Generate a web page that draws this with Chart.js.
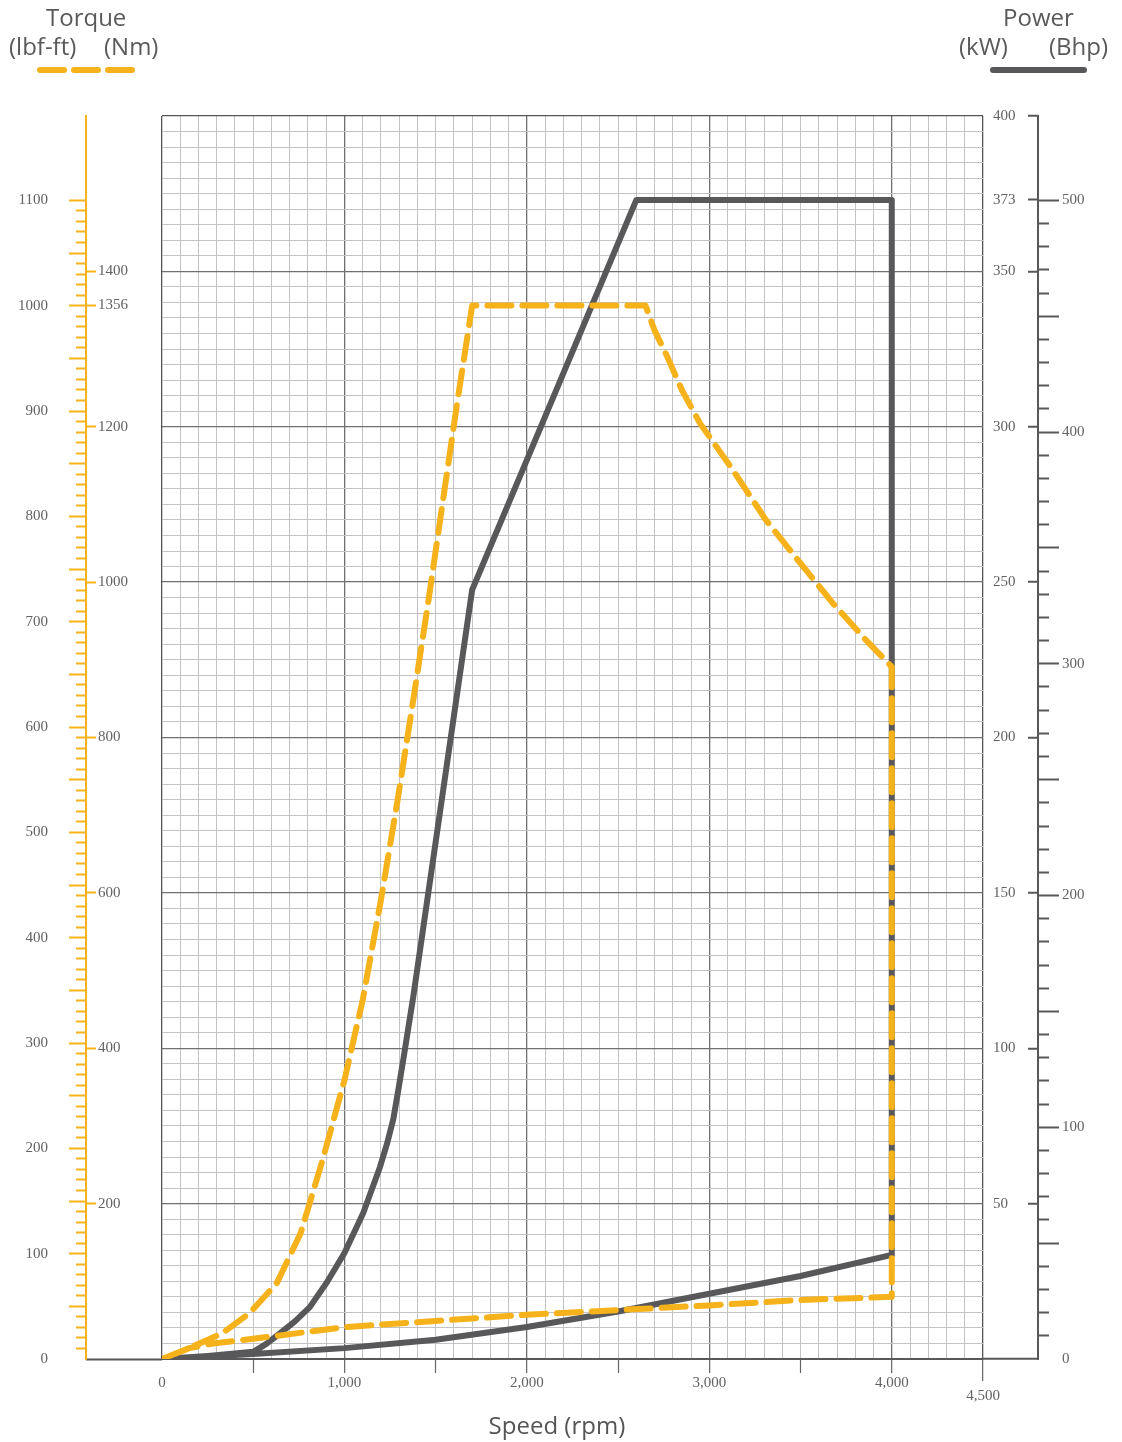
<!DOCTYPE html>
<html>
<head>
<meta charset="utf-8">
<title>Torque and power vs speed</title>
<script src="https://cdn.jsdelivr.net/npm/chart.js@4.4.1/dist/chart.umd.min.js"></script>
<style>
  body { margin: 0; background: #fff; }
  #wrap { position: relative; width: 1122px; height: 1442px; }
  #graph { position: absolute; left: 0; top: 0; }
  .key { position: absolute; font-family: "Open Sans", sans-serif; font-size: 24px; line-height: 28px; color: #5a5a5a; white-space: nowrap; }
  .seg { position: absolute; height: 6px; border-radius: 3px; }
</style>
</head>
<body>
<div id="wrap">
  <canvas id="graph" width="1122" height="1442"></canvas>

  <div class="key" style="left:46px; top:3px;">Torque</div>
  <div class="key" style="left:9px; top:32px;">(lbf-ft)</div>
  <div class="key" style="left:104px; top:32px;">(Nm)</div>
  <div class="seg" style="left:37px; top:67px; width:30px; background:#f5b21a;"></div>
  <div class="seg" style="left:71px; top:67px; width:30px; background:#f5b21a;"></div>
  <div class="seg" style="left:105px; top:67px; width:30px; background:#f5b21a;"></div>

  <div class="key" style="left:1003px; top:3px;">Power</div>
  <div class="key" style="left:959px; top:32px;">(kW)</div>
  <div class="key" style="left:1049px; top:32px;">(Bhp)</div>
  <div class="seg" style="left:990px; top:67px; width:97px; background:#58585a;"></div>
</div>

<script>
  // torque curve, Nm (closed loop: full load up, then back along the bottom)
  const torqueRpm = [0, 148, 329, 480, 630, 760, 880, 1000, 1100, 1200, 1291, 1377, 1461, 1540, 1620, 1700,
                     2650, 2700, 2770, 2850, 2950, 3130, 3310, 3500, 3680, 3860, 4000,
                     4000, 3500, 3000, 2500, 2000, 1500, 1000, 500, 280, 150, 0];
  const torqueNm  = [0, 14, 33, 59, 98, 162, 256, 359, 462, 591, 719, 848, 977, 1105, 1234, 1356,
                     1356, 1324, 1290, 1247, 1204, 1144, 1080, 1024, 972, 925, 891,
                     80, 76, 69, 63, 57, 49, 41, 26, 20, 14, 0];

  // power curve, kW
  const powerRpm = [0, 250, 500, 570, 650, 730, 810, 905, 1000, 1103, 1195, 1233, 1268, 1295, 1323, 1350, 1377, 1700,
                    2600, 4000,
                    4000, 3500, 3000, 2500, 2000, 1500, 1000, 500, 0];
  const powerKw  = [0, 1, 2.3, 4.8, 8.4, 12.2, 16.7, 24.8, 34.1, 47, 61.8, 69.2, 77.2, 86.5, 96.5, 106.5, 116.5, 247.5,
                    373, 373,
                    33.5, 26.7, 21, 15.3, 10.3, 6.2, 3.5, 1.6, 0];

  // tick labels
  const speedLabels = [0, 1000, 2000, 3000, 4000, 4500];
  const nmTicks = [0, 200, 400, 600, 800, 1000, 1200, 1356, 1400];
  const kwLabels = [50, 100, 150, 200, 250, 300, 350, 373, 400];

  const NM_PER_LBFFT = 1.35582;
  const KW_PER_BHP = 0.7457;

  const YELLOW = '#f5b21a';
  const LINE_GRAY = '#58585a';
  const TEXT_GRAY = '#626262';
  const CLEAR = 'rgba(0,0,0,0)';
  const tickFont = { family: '"Liberation Serif", serif', size: 15 };

  const range = (a, b, s) => {
    const out = [];
    for (let v = a; v <= b; v += s) out.push(v);
    return out;
  };
  const setTicks = (vals) => (scale) => { scale.ticks = vals.map(v => ({ value: v })); };

  const kwTicks = range(0, 400, 5).concat([373]).sort((a, b) => a - b);

  const gridColor = (v, lo, hi, major) => {
    if (v === lo || v === hi) return '#555555';
    if (v % major === 0) return '#707070';
    return '#c3c3c3';
  };

  const config = {
    type: 'line',
    data: {
      datasets: [
        {
          label: 'Torque',
          data: torqueRpm.map((x, i) => ({ x: x, y: torqueNm[i] })),
          yAxisID: 'yNm',
          borderColor: YELLOW,
          borderWidth: 6,
          borderDash: [24, 11],
          borderCapStyle: 'round',
          borderJoinStyle: 'round',
          pointRadius: 0,
          tension: 0
        },
        {
          label: 'Power',
          data: powerRpm.map((x, i) => ({ x: x, y: powerKw[i] })),
          yAxisID: 'ykW',
          borderColor: LINE_GRAY,
          borderWidth: 6,
          borderCapStyle: 'round',
          borderJoinStyle: 'round',
          pointRadius: 0,
          tension: 0
        }
      ]
    },
    options: {
      responsive: false,
      devicePixelRatio: 1,
      animation: false,
      layout: { padding: { top: 116, left: 0, right: 0, bottom: 0 } },
      plugins: {
        legend: { display: false },
        tooltip: { enabled: false }
      },
      scales: {
        x: {
          type: 'linear',
          min: 0,
          max: 4500,
          afterBuildTicks: setTicks(range(0, 4500, 100)),
          afterFit: (s) => { s.height = 83; },
          border: { display: true, color: LINE_GRAY, width: 2 },
          grid: {
            color: (ctx) => gridColor(ctx.tick.value, 0, 4500, 1000),
            lineWidth: (ctx) => ctx.tick.value % 1000 === 0 || ctx.tick.value === 4500 ? 1.3 : 1,
            tickLength: 22,
            tickWidth: 1.2,
            tickColor: (ctx) => ctx.tick.value > 0 && ctx.tick.value % 500 === 0 ? '#666666' : CLEAR,
            tickBorderDash: (ctx) => ctx.tick.value === 4500 ? [] : [13, 200]
          },
          ticks: {
            autoSkip: false,
            maxRotation: 0,
            minRotation: 0,
            padding: -5,
            color: TEXT_GRAY,
            font: { family: '"Liberation Serif", serif', size: 15, lineHeight: 0.9 },
            callback: (v) => {
              if (!speedLabels.includes(v)) return '';
              if (v === 4500) return ['', '4,500'];
              return v.toLocaleString('en-US');
            }
          },
          title: {
            display: true,
            text: 'Speed (rpm)\u00a0\u00a0\u00a0\u00a0\u00a0',
            color: '#555555',
            font: { family: '"Open Sans", sans-serif', size: 24 },
            padding: { top: 0, bottom: 0 }
          }
        },
        yLbf: {
          type: 'linear',
          position: 'left',
          weight: 1,
          min: 0,
          max: 1600 / NM_PER_LBFFT,
          afterBuildTicks: setTicks(range(0, 1100, 10)),
          afterFit: (s) => { s.width = 86; },
          border: { display: true, color: YELLOW, width: 2 },
          grid: {
            drawOnChartArea: false,
            tickLength: 17,
            tickWidth: 2,
            tickColor: (ctx) => ctx.tick.value === 0 ? CLEAR : YELLOW,
            tickBorderDash: (ctx) => ctx.tick.value % 50 === 0 ? [] : [0, 7, 10, 200]
          },
          ticks: {
            autoSkip: false,
            padding: 21,
            color: TEXT_GRAY,
            font: tickFont,
            callback: (v) => v % 100 === 0 ? String(v) : ''
          }
        },
        yNm: {
          type: 'linear',
          position: 'left',
          weight: 0,
          min: 0,
          max: 1600,
          afterBuildTicks: setTicks(nmTicks),
          afterFit: (s) => { s.width = 76; },
          border: { display: false },
          grid: {
            drawOnChartArea: false,
            tickLength: 76,
            tickWidth: 2,
            tickColor: (ctx) => ctx.tick.value === 0 ? LINE_GRAY : YELLOW,
            tickBorderDash: (ctx) => ctx.tick.value === 0 ? [] : [10, 200]
          },
          ticks: {
            autoSkip: false,
            mirror: true,
            padding: -64,
            color: TEXT_GRAY,
            font: tickFont,
            callback: (v) => v === 0 ? '' : String(v)
          }
        },
        ykW: {
          type: 'linear',
          position: 'right',
          weight: 0,
          min: 0,
          max: 400,
          afterBuildTicks: setTicks(kwTicks),
          afterFit: (s) => { s.width = 55; },
          border: { display: false },
          grid: {
            color: (ctx) => ctx.tick.value === 373 ? CLEAR : gridColor(ctx.tick.value, 0, 400, 50),
            lineWidth: (ctx) => ctx.tick.value % 50 === 0 ? 1.3 : 1,
            tickLength: 55,
            tickWidth: 2,
            tickColor: (ctx) => ctx.tick.value % 50 === 0 || ctx.tick.value === 373 ? LINE_GRAY : CLEAR,
            tickBorderDash: (ctx) => ctx.tick.value === 0 ? [] : [0, 45, 10, 200]
          },
          ticks: {
            autoSkip: false,
            padding: -45,
            color: TEXT_GRAY,
            font: tickFont,
            callback: (v) => kwLabels.includes(v) ? String(v) : ''
          }
        },
        yBhp: {
          type: 'linear',
          position: 'right',
          weight: 1,
          min: 0,
          max: 400 / KW_PER_BHP,
          afterBuildTicks: setTicks(range(0, 500, 10)),
          afterFit: (s) => { s.width = 84; },
          border: { display: true, color: LINE_GRAY, width: 2 },
          grid: {
            drawOnChartArea: false,
            tickLength: 21,
            tickWidth: 2,
            tickColor: (ctx) => ctx.tick.value === 0 ? CLEAR : LINE_GRAY,
            tickBorderDash: (ctx) => ctx.tick.value % 50 === 0 ? [] : [10, 200]
          },
          ticks: {
            autoSkip: false,
            padding: 3,
            color: TEXT_GRAY,
            font: tickFont,
            callback: (v) => v % 100 === 0 ? String(v) : ''
          }
        }
      }
    }
  };

  const ctx = document.getElementById('graph').getContext('2d');
  new Chart(ctx, config);
</script>
</body>
</html>
